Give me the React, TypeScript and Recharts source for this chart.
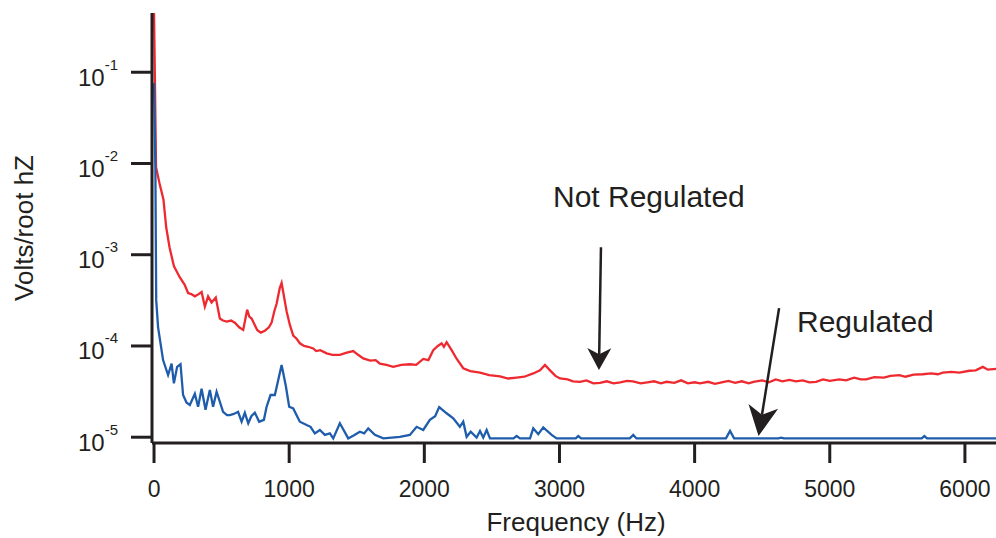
import React from 'react';
import { LineChart, Line, XAxis, YAxis, ReferenceLine, Customized } from 'recharts';

// Not regulated (red) spectrum
const redFreq = [
  0, 15, 40, 70, 90, 115, 147, 189, 226, 252, 275, 302, 330, 352, 376, 400, 426, 457, 487, 510,
  537, 570, 598, 630, 660, 689, 705, 722, 763, 790, 820, 850, 870, 890, 907, 930, 944, 960, 981, 1005,
  1030, 1055, 1079, 1110, 1140, 1178, 1200, 1230, 1277, 1320, 1375, 1420, 1474, 1510, 1548, 1600, 1640, 1671, 1720, 1770,
  1830, 1893, 1940, 1992, 2030, 2066, 2100, 2128, 2145, 2165, 2202, 2240, 2288, 2340, 2412, 2480, 2560, 2620, 2683, 2740,
  2806, 2856, 2893, 2930, 2970, 3004, 3060, 3100, 3152, 3200, 3250, 3300, 3350, 3400, 3450, 3500, 3544, 3600, 3650, 3700,
  3750, 3793, 3850, 3900, 3950, 4000, 4040, 4100, 4150, 4200, 4250, 4300, 4350, 4400, 4435, 4500, 4550, 4600, 4650, 4701,
  4750, 4800, 4850, 4899, 4950, 5000, 5071, 5120, 5180, 5230, 5269, 5330, 5400, 5450, 5515, 5560, 5620, 5688, 5750, 5800,
  5836, 5900, 5960, 6033, 6080, 6133, 6170, 6231,
];
const redVolts = [
  0.45, 0.0091, 0.0061, 0.004, 0.002, 0.0012, 0.00075, 0.00057, 0.00047, 0.00038, 0.00037, 0.00035, 0.00037, 0.00039, 0.00027, 0.00035, 0.0003, 0.00034, 0.0002, 0.00019,
  0.000185, 0.00019, 0.00018, 0.00016, 0.00015, 0.00025, 0.00021, 0.0002, 0.00015, 0.00014, 0.000147, 0.00016, 0.00018, 0.00024, 0.00029, 0.00043, 0.00049, 0.00036, 0.00024, 0.00017,
  0.00013, 0.00012, 0.000107, 0.0001, 9.8e-5, 9.4e-5, 8.8e-5, 9.0e-5, 8.3e-5, 8.0e-5, 8.0e-5, 8.4e-5, 8.8e-5, 8.0e-5, 7.3e-5, 6.9e-5, 7.0e-5, 6.4e-5, 6.2e-5, 5.9e-5,
  6.2e-5, 6.3e-5, 6.2e-5, 7.2e-5, 7.0e-5, 9.0e-5, 1.0e-4, 1.07e-4, 9.8e-5, 1.1e-4, 9.0e-5, 7.2e-5, 5.7e-5, 5.3e-5, 5.1e-5, 4.8e-5, 4.65e-5, 4.4e-5, 4.5e-5, 4.6e-5,
  5.0e-5, 5.4e-5, 6.2e-5, 5.4e-5, 4.7e-5, 4.4e-5, 4.3e-5, 4.1e-5, 4.05e-5, 4.2e-5, 3.9e-5, 3.95e-5, 4.1e-5, 3.9e-5, 4.0e-5, 4.15e-5, 4.1e-5, 3.9e-5, 4.0e-5, 4.1e-5,
  3.9e-5, 4.05e-5, 3.95e-5, 4.2e-5, 3.9e-5, 4.0e-5, 3.9e-5, 4.05e-5, 3.85e-5, 4.0e-5, 4.15e-5, 3.95e-5, 4.1e-5, 3.9e-5, 4.05e-5, 4.2e-5, 4.0e-5, 4.3e-5, 4.1e-5, 4.25e-5,
  4.1e-5, 4.2e-5, 4.0e-5, 4.05e-5, 4.3e-5, 4.15e-5, 4.3e-5, 4.2e-5, 4.5e-5, 4.3e-5, 4.3e-5, 4.55e-5, 4.5e-5, 4.7e-5, 4.8e-5, 4.6e-5, 4.85e-5, 4.9e-5, 5.0e-5, 4.9e-5,
  5.1e-5, 5.2e-5, 5.1e-5, 5.35e-5, 5.4e-5, 5.9e-5, 5.5e-5, 5.6e-5,
];

// Regulated (blue) spectrum
const blueFreq = [
  0, 10, 16, 30, 67, 104, 130, 147, 171, 196, 215, 240, 265, 302, 326, 352, 381, 413, 437, 463,
  511, 540, 561, 590, 622, 648, 672, 697, 720, 746, 778, 813, 833, 862, 894, 944, 976, 1000, 1030, 1079,
  1129, 1158, 1190, 1227, 1264, 1301, 1326, 1375, 1437, 1480, 1523, 1555, 1585, 1634, 1696, 1760, 1819, 1893, 1943, 1992,
  2041, 2080, 2110, 2165, 2214, 2263, 2288, 2313, 2343, 2387, 2412, 2436, 2461, 2486, 2660, 2683, 2708, 2782, 2806, 2843,
  2880, 2942, 2979, 3120, 3139, 3160, 3520, 3546, 3570, 4232, 4262, 4292, 4620, 4640, 4660, 5680, 5700, 5720, 6231,
];
const blueVolts = [
  0.076, 0.0091, 0.00032, 0.00016, 7.0e-5, 4.8e-5, 6.4e-5, 3.9e-5, 5.9e-5, 6.3e-5, 2.9e-5, 2.4e-5, 2.25e-5, 3.0e-5, 2.16e-5, 3.4e-5, 2.0e-5, 3.3e-5, 2.16e-5, 3.15e-5,
  1.9e-5, 1.75e-5, 1.75e-5, 1.8e-5, 1.9e-5, 1.48e-5, 1.85e-5, 1.42e-5, 1.7e-5, 1.86e-5, 1.48e-5, 1.55e-5, 2.16e-5, 2.9e-5, 2.9e-5, 6.2e-5, 3.6e-5, 2.16e-5, 2.07e-5, 1.48e-5,
  1.36e-5, 1.3e-5, 1.1e-5, 1.2e-5, 1.06e-5, 1.1e-5, 9.7e-6, 1.42e-5, 9.7e-6, 1.05e-5, 1.15e-5, 1.1e-5, 1.25e-5, 1.06e-5, 9.7e-6, 9.9e-6, 1.01e-5, 1.06e-5, 1.3e-5, 1.2e-5,
  1.55e-5, 1.7e-5, 2.14e-5, 1.83e-5, 1.61e-5, 1.3e-5, 1.48e-5, 1.01e-5, 1.15e-5, 9.9e-6, 1.17e-5, 9.9e-6, 1.2e-5, 9.7e-6, 9.7e-6, 1.03e-5, 9.7e-6, 9.7e-6, 1.25e-5, 1.08e-5,
  1.28e-5, 1.06e-5, 9.7e-6, 9.7e-6, 1.03e-5, 9.7e-6, 9.7e-6, 1.06e-5, 9.7e-6, 9.7e-6, 1.17e-5, 9.7e-6, 9.7e-6, 9.9e-6, 9.7e-6, 9.7e-6, 1.03e-5, 9.7e-6, 9.7e-6,
];

const xTicks = [0, 1000, 2000, 3000, 4000, 5000, 6000];
const yTicks = [1e-5, 1e-4, 1e-3, 1e-2, 1e-1];
const yExponents = ['-5', '-4', '-3', '-2', '-1'];

const redData = redFreq.map((f, i) => ({ f, v: redVolts[i] }));
const blueData = blueFreq.map((f, i) => ({ f, v: blueVolts[i] }));

const INK = '#231f20';
const FONT = '"Liberation Sans", Arial, Helvetica, sans-serif';

const XTick = (props: any) => {
  const { x, y, payload } = props;
  return (
    <text x={x} y={y + 34} textAnchor="middle" fontSize={23} fontFamily={FONT} fill={INK}>
      {payload.value}
    </text>
  );
};

const YTick = (props: any) => {
  const { x, y, payload } = props;
  const idx = yTicks.findIndex((t) => Math.abs(Math.log10(t) - Math.log10(payload.value)) < 0.01);
  return (
    <text x={x - 13} y={y + 13.5} textAnchor="end" fontSize={24} fontFamily={FONT} fill={INK}>
      10
      <tspan dy={-16} fontSize={15}>{yExponents[idx]}</tspan>
    </text>
  );
};

// arrow drawn along a reference segment, head at the second point
const arrow = (headLen: number, headHalf: number) => (props: any) => {
  const { x1, y1, x2, y2 } = props;
  const dx = x2 - x1;
  const dy = y2 - y1;
  const len = Math.hypot(dx, dy) || 1;
  const ux = dx / len;
  const uy = dy / len;
  const bx = x2 - ux * headLen;
  const by = y2 - uy * headLen;
  const nx = x2 - ux * headLen * 0.72;
  const ny = y2 - uy * headLen * 0.72;
  const pts = `${x2},${y2} ${bx - uy * headHalf},${by + ux * headHalf} ${nx},${ny} ${bx + uy * headHalf},${by - ux * headHalf}`;
  return (
    <g>
      <line x1={x1} y1={y1} x2={nx} y2={ny} stroke={INK} strokeWidth={2.5} />
      <polygon points={pts} fill={INK} />
    </g>
  );
};

const Annotations = () => (
  <g fontFamily={FONT} fill={INK}>
    <text x={553} y={207} fontSize={30}>Not Regulated</text>
    <text x={797} y={332} fontSize={30}>Regulated</text>
    <text x={576} y={531} fontSize={26} textAnchor="middle">Frequency (Hz)</text>
    <text x={33} y={228} fontSize={26} textAnchor="middle" transform="rotate(-90, 33, 228)">
      Volts/root hZ
    </text>
  </g>
);

export default function App() {
  return (
    <div style={{ position: 'absolute', left: 0, top: 0, background: '#fff' }}>
      <LineChart width={996} height={538} margin={{ top: 13, right: 0, bottom: 0, left: 0 }}>
        <XAxis
          dataKey="f"
          type="number"
          domain={[-15, 6230]}
          allowDataOverflow
          ticks={xTicks}
          tickSize={20}
          tickMargin={0}
          height={95}
          stroke={INK}
          strokeWidth={3}
          tick={<XTick />}
        />
        <YAxis
          type="number"
          scale="log"
          domain={[8.64e-6, 0.446]}
          allowDataOverflow
          ticks={yTicks}
          tickSize={21}
          tickMargin={0}
          width={152}
          stroke={INK}
          strokeWidth={3}
          tick={<YTick />}
        />
        <Line
          data={redData}
          dataKey="v"
          stroke="#ee2a30"
          strokeWidth={2.3}
          dot={false}
          type="linear"
          isAnimationActive={false}
        />
        <Line
          data={blueData}
          dataKey="v"
          stroke="#1f5dac"
          strokeWidth={2.3}
          dot={false}
          type="linear"
          isAnimationActive={false}
        />
        <ReferenceLine
          segment={[{ x: 3307, y: 0.00121 }, { x: 3292, y: 5.44e-5 }]}
          shape={arrow(22, 12)}
        />
        <ReferenceLine
          segment={[{ x: 4625, y: 2.6e-4 }, { x: 4473, y: 1.03e-5 }]}
          shape={arrow(30, 15)}
        />
        <Customized component={Annotations} />
      </LineChart>
    </div>
  );
}
